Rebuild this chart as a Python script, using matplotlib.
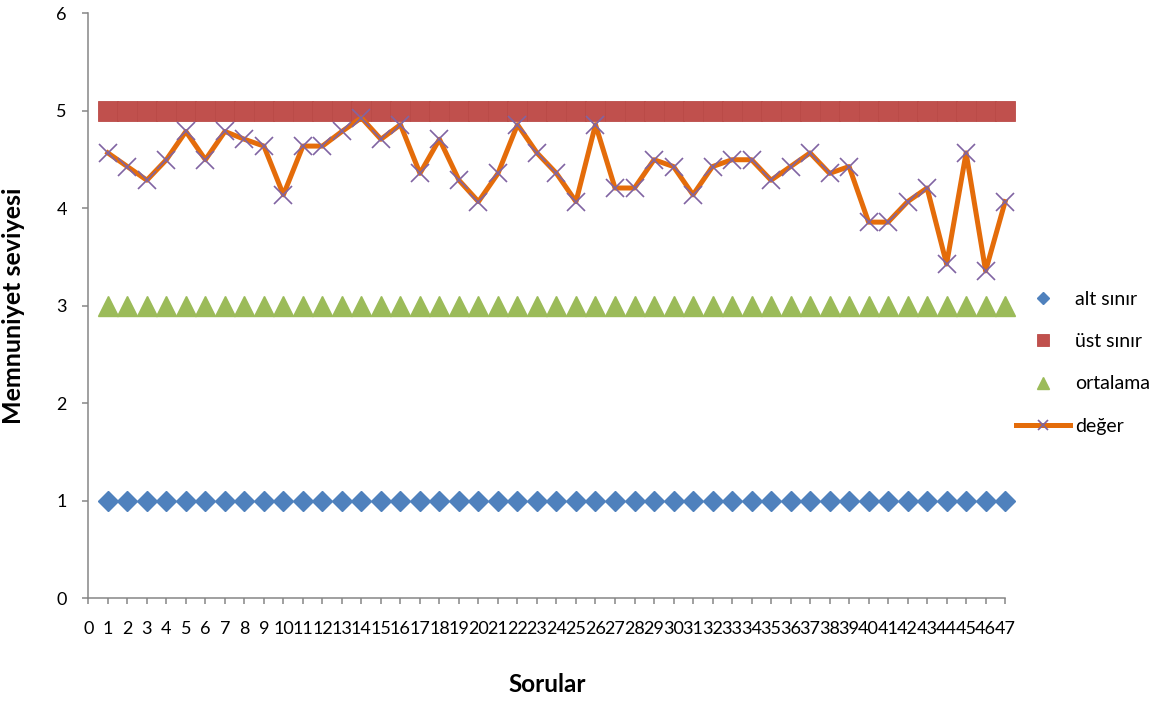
import matplotlib
matplotlib.use("Agg")
import matplotlib.pyplot as plt

questions = list(range(1, 48))
alt_sinir = [1] * 47
ust_sinir = [5] * 47
ortalama = [3] * 47
deger = [4.57, 4.43, 4.29, 4.50, 4.79, 4.50, 4.79, 4.71, 4.64, 4.14,
         4.64, 4.64, 4.79, 4.93, 4.71, 4.86, 4.36, 4.71, 4.29, 4.07,
         4.36, 4.86, 4.57, 4.36, 4.07, 4.86, 4.21, 4.21, 4.50, 4.43,
         4.14, 4.43, 4.50, 4.50, 4.29, 4.43, 4.57, 4.36, 4.43, 3.86,
         3.86, 4.07, 4.21, 3.43, 4.57, 3.36, 4.07]
x_ticks = list(range(0, 48))
y_ticks = [0, 1, 2, 3, 4, 5, 6]
series_names = ["alt sınır", "üst sınır", "ortalama", "değer"]

plt.rcParams['font.family'] = ['Lato', 'DejaVu Sans']

fig = plt.figure(figsize=(11.64, 7.06), dpi=100)
ax = fig.add_axes([0.0759, 0.1523, 0.7876, 0.8286])

blue = "#4F81BD"
red = "#C0504D"
green = "#9BBB59"
orange = "#E46C0A"
purple = "#8064A2"
gray = "#868686"

ax.plot(questions, alt_sinir, linestyle="none", marker="D", markersize=10.2,
        color=blue, markeredgecolor=blue, clip_on=False, zorder=3, label=series_names[0])
ax.plot(questions, ust_sinir, linestyle="none", marker="s", markersize=14.8,
        color=red, markeredgecolor="#BA4A47", markeredgewidth=0.6, clip_on=False, zorder=3,
        label=series_names[1])
ax.plot(questions, ortalama, linestyle="none", marker="^", markersize=13.8,
        color=green, markeredgecolor=green, clip_on=False, zorder=3, label=series_names[2])
ax.plot(questions, deger, linestyle="-", linewidth=3.6, color=orange, marker="x",
        markersize=13, markeredgecolor=purple, markeredgewidth=1.2, clip_on=False,
        zorder=4, label=series_names[3])

ax.set_xlim(0, 47)
ax.set_ylim(0, 6)
ax.set_xticks(x_ticks)
ax.set_xticklabels([str(t) for t in x_ticks])
ax.set_yticks(y_ticks)

for s in ["top", "right"]:
    ax.spines[s].set_visible(False)
for s in ["left", "bottom"]:
    ax.spines[s].set_color(gray)
    ax.spines[s].set_linewidth(1.1)

ax.tick_params(axis="both", direction="out", length=4.5, width=1.1, color=gray,
               labelsize=13, labelcolor="black")
ax.tick_params(axis="x", pad=12)
ax.tick_params(axis="y", pad=11)

ax.set_xlabel("Sorular", fontsize=17.5, fontweight="bold")
ax.set_ylabel("Memnuniyet seviyesi", fontsize=18, fontweight="bold")
ax.xaxis.set_label_coords(0.5, -0.127)
ax.yaxis.set_label_coords(-0.069, 0.5)

leg = ax.legend(loc="center left", bbox_to_anchor=(1.003, 0.403), frameon=False,
                fontsize=14, markerscale=0.6, handlelength=2.8, handletextpad=0.25,
                labelspacing=1.3, borderaxespad=0)

fig.savefig("out.png", dpi=100)
